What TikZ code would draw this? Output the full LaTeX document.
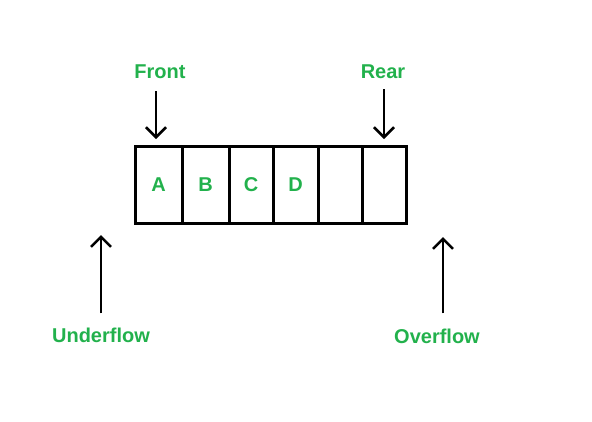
\documentclass[tikz,border=0pt]{standalone}
\usepackage{fontspec}
\setmainfont{Liberation Sans}
\usetikzlibrary{positioning,arrows.meta}
\definecolor{labelgreen}{RGB}{34,177,76}
\begin{document}
\begin{tikzpicture}[x=1pt, y=-1pt, >={Straight Barb[length=10pt,width=20pt]},
    cell/.style={draw, line width=3pt, minimum width=44pt, minimum height=77pt,
                 inner sep=0pt, outer sep=0pt, text=labelgreen, font=\bfseries\fontsize{20}{20}\selectfont},
    tag/.style={text=labelgreen, inner sep=0pt, font=\bfseries\fontsize{20}{20}\selectfont},
    pointer/.style={->, line width=2.5pt}]
    \useasboundingbox (0,0) rectangle (592,421);

    % the queue
    \node[cell, minimum width=47pt] (c1) at (158.5,184.5) {A};
    \node[cell, minimum width=47pt, right=0pt of c1] (c2) {B};
    \node[cell, right=0pt of c2] (c3) {C};
    \node[cell, minimum width=45pt, right=0pt of c3] (c4) {D};
    \node[cell, right=0pt of c4] (c5) {};
    \node[cell, right=0pt of c5] (c6) {};

    % front and rear
    \node[tag] (front) at (160,72) {Front};
    \node[tag] (rear) at (383,72) {Rear};
    \draw[pointer, shorten <=12pt, shorten >=7pt] (front.south -| 156,0) -- (c1.north -| 156,0);
    \draw[pointer, shorten <=10pt, shorten >=7pt] (rear.south -| 384,0) -- (c6.north -| 384,0);

    % underflow and overflow
    \node[tag] (under) at (101,335) {Underflow};
    \node[tag] (over) at (437,336) {Overflow};
    \coordinate (uf) at (101,235);
    \coordinate (of) at (443,237);
    \draw[pointer, shorten <=14pt] (under.north -| uf) -- (uf);
    \draw[pointer, shorten <=15pt] (over.north -| of) -- (of);
\end{tikzpicture}
\end{document}
